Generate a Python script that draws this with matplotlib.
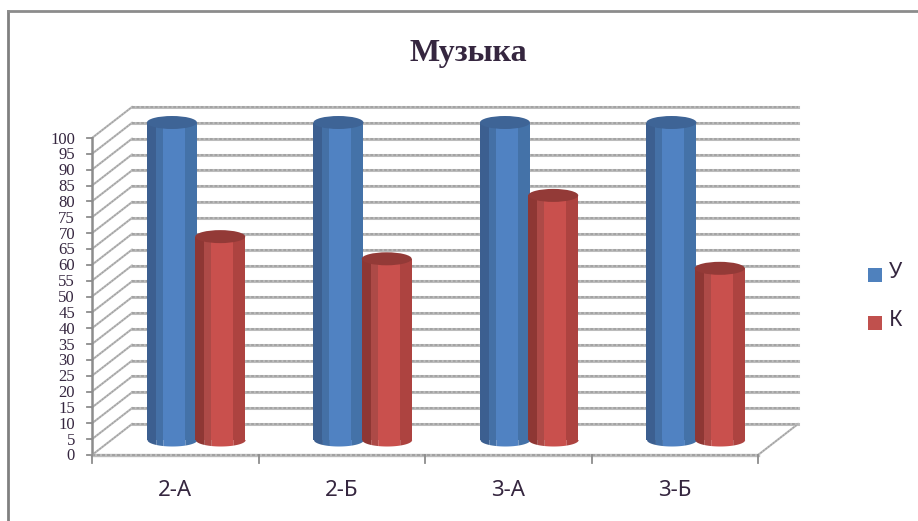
# -*- coding: utf-8 -*-
import numpy as np
import matplotlib
matplotlib.use('Agg')
import matplotlib.pyplot as plt
from matplotlib.patches import Ellipse, Rectangle

# chart data
categories = ['2-А', '2-Б', '3-А', '3-Б']
u_values = [100, 100, 100, 100]
k_values = [64, 57, 77, 54]
y_ticks = list(range(0, 101, 5))
legend_labels = ['У', 'К']

# pixel geometry of the fake 3d box
W, H = 918, 521
x0_px, y0_px = 92, 455
cat_px, unit_px = 166.5, 3.17
depth_x = 40 / cat_px
depth_y = 31 / unit_px
grid_c = '#bcbcbc'
grid_dark = '#a2a2a2'
txt_c = '#35263f'

fig = plt.figure(figsize=(W / 100, H / 100), dpi=100)
ax = fig.add_axes([0, 0, 1, 1])
ax.set_xlim(-x0_px / cat_px, (W - x0_px) / cat_px)
ax.set_ylim(-(H - y0_px) / unit_px, y0_px / unit_px)
ax.axis('off')


def grid_line(xs, ys, lw=2.0, z=1):
    # speckled grey line, solid underlay plus short dashes
    ax.plot(xs, ys, color=grid_c, lw=lw, zorder=z)
    ax.plot(xs, ys, color=grid_dark, lw=lw * 0.6, ls=(0, (1.5, 1)), zorder=z)


def cylinder(x, val, width, colors, top_c):
    # body is drawn as vertical shaded bands, ends are ellipses
    cx = x + depth_x / 2
    base = depth_y / 2
    ry = 6.5 / unit_px
    left = cx - width / 2
    fracs = [0, 0.18, 0.32, 0.76, 1]
    for i in range(4):
        ax.add_patch(Rectangle((left + fracs[i] * width, base),
                               (fracs[i + 1] - fracs[i]) * width, val,
                               color=colors[i], lw=0, zorder=3))
        xs = np.linspace(fracs[i], fracs[i + 1], 20)
        t = np.sqrt(np.clip(1 - (2 * xs - 1) ** 2, 0, 1))
        ax.fill_between(left + xs * width, base - ry * t, base, color=colors[i], lw=0, zorder=3)
    ax.add_patch(Ellipse((cx, base + val), width, 2 * ry, color=top_c, lw=0, zorder=4))


# walls and grid
for v in y_ticks:
    grid_line([0, depth_x], [v, v + depth_y], lw=1.5)
    grid_line([depth_x, 4 + depth_x], [v + depth_y, v + depth_y], lw=2.2)
    ax.plot([-5 / cat_px, 0], [v, v], color='#8c8c8c', lw=1.3, zorder=2)
    ax.text(-17 / cat_px, v - 1.5 / unit_px, str(v), ha='right', va='center', fontsize=12,
            family='Liberation Serif', color=txt_c)
grid_line([4, 4 + depth_x], [0, depth_y], lw=1.5)

# front axes
ax.plot([0, 0], [0, 100], color='#8c8c8c', lw=1.8, zorder=2)
grid_line([0, 4], [0, 0], lw=2.4, z=2)
for i in range(5):
    ax.plot([i, i], [0, -8 / unit_px], color='#8c8c8c', lw=1.3, zorder=2)
for i, c in enumerate(categories):
    ax.text(i + 0.5, -35 / unit_px, c, ha='center', va='center', fontsize=16,
            family='Noto Sans', color=txt_c)

blues = ['#3c5f90', '#4470a6', '#5082c2', '#4472a8']
reds = ['#8e3734', '#ad4a47', '#c9504d', '#ad4340']
bar_w = 50 / cat_px
for i in range(4):
    cylinder(i + 0.36, u_values[i], bar_w, blues, '#3e6496')
    cylinder(i + 0.65, k_values[i], bar_w, reds, '#933a37')

# title, legend, frame
ax.text(468 / W, 1 - 54 / H, 'Музыка', transform=ax.transAxes, ha='center', va='center',
        fontsize=23, fontweight='bold', family='Liberation Serif', color=txt_c)
for lab, col, py in zip(legend_labels, ['#4f81bd', '#c0504d'], [275, 323]):
    ax.add_patch(Rectangle((868 / W, 1 - (py + 7) / H), 14 / W, 14 / H, transform=ax.transAxes,
                           color=col, lw=0))
    ax.text(889 / W, 1 - (py - 2) / H, lab, transform=ax.transAxes, va='center', fontsize=15.5,
            family='Noto Sans', color=txt_c)

ax.plot([8 / W, 8 / W], [0, 1 - 11 / H], transform=ax.transAxes, color='#808080', lw=2)
ax.plot([8 / W, 1], [1 - 11 / H, 1 - 11 / H], transform=ax.transAxes, color='#8c8c8c', lw=2)

fig.savefig('out.png', dpi=100)
